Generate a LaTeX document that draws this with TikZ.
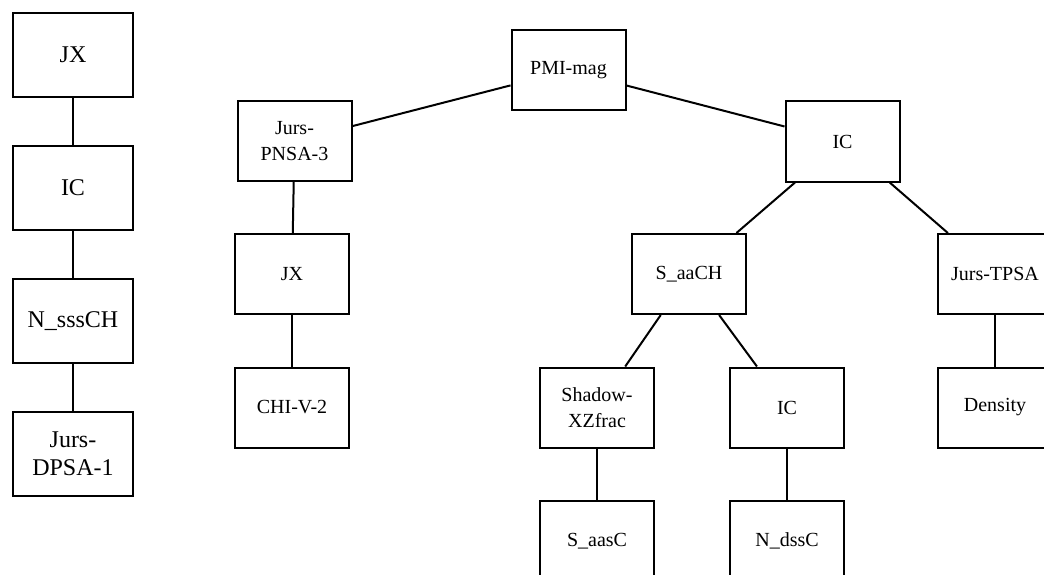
\documentclass[tikz,border=0pt]{standalone}
\usepackage{fontspec}
\setmainfont{Liberation Serif}
\begin{document}
\begin{tikzpicture}[x=1pt,y=-1pt,
  box/.style={draw, line width=2pt, inner sep=0pt, align=center},
  colbox/.style={box, minimum width=120pt, minimum height=84pt,
    font=\fontsize{24}{28}\selectfont},
  treebox/.style={box, minimum width=114pt, minimum height=80pt,
    font=\fontsize{20}{26}\selectfont},
  link/.style={line width=2pt}]
\useasboundingbox (0,0) rectangle (1044,575);
\clip (0,0) rectangle (1044,575);

% standalone chain on the left
\node[colbox] (cjx)   at (73,55)  {JX};
\node[colbox] (cic)   at (73,188) {IC};
\node[colbox] (cnsss) at (73,321) {N\_sssCH};
\node[colbox] (cdpsa) at (73,454) {Jurs-\\DPSA-1};
\draw[link] (cjx) -- (cic);
\draw[link] (cic) -- (cnsss);
\draw[link] (cnsss) -- (cdpsa);

% tree
\node[treebox] (pmi)     at (568.5,70.5) {PMI-mag};
\node[treebox] (pnsa)    at (294.5,141)  {Jurs-\\PNSA-3};
\node[treebox] (icr)     at (842.5,141.5) {IC};
\node[treebox] (jx)      at (292,274)    {JX};
\node[treebox] (chi)     at (292,407.5)  {CHI-V-2};
\node[treebox] (saach)   at (689,274)    {S\_aaCH};
\node[treebox] (tpsa)    at (995,274)    {Jurs-TPSA};
\node[treebox] (shadow)  at (597,407.5)  {Shadow-\\XZfrac};
\node[treebox] (ic2)     at (787,407.5)  {IC};
\node[treebox] (density) at (995,407.5)  {Density};
\node[treebox] (saasc)   at (597,541)    {S\_aasC};
\node[treebox] (ndssc)   at (787,541)    {N\_dssC};

\draw[link] (pmi) -- (pnsa);
\draw[link] (pmi) -- (icr);
\draw[link] (pnsa) -- (jx);
\draw[link] (jx) -- (chi);
\draw[link] (icr) -- (saach);
\draw[link] (icr) -- (tpsa);
\draw[link] (saach) -- (shadow);
\draw[link] (saach) -- (ic2);
\draw[link] (tpsa) -- (density);
\draw[link] (shadow) -- (saasc);
\draw[link] (ic2) -- (ndssc);
\end{tikzpicture}
\end{document}
